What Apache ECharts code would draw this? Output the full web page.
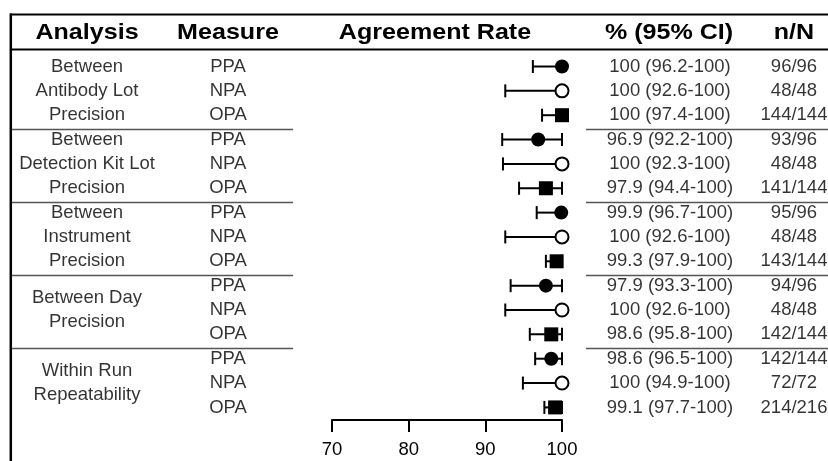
<!DOCTYPE html>
<html><head><meta charset="utf-8">
<script src="https://cdn.jsdelivr.net/npm/echarts@6/dist/echarts.min.js"></script>
<style>html,body{margin:0;padding:0;background:#fff}#c{width:828px;height:461px}</style>
</head><body><div id="c"></div>
<script>
// ---------- data ----------
const headers = ['Analysis', 'Measure', 'Agreement Rate', '% (95% CI)', 'n/N'];
const analyses = ['Between\nAntibody Lot\nPrecision', 'Between\nDetection Kit Lot\nPrecision', 'Between\nInstrument\nPrecision', 'Between Day\nPrecision', 'Within Run\nRepeatability'];
const measures = ['PPA', 'NPA', 'OPA'];
const ppaEst  = [100, 96.9, 99.9, 97.9, 98.6];
const ppaLow  = [96.2, 92.2, 96.7, 93.3, 96.5];
const ppaHigh = [100, 100, 100, 100, 100];
const ppaN    = [96, 93, 95, 94, 142];
const ppaTot  = [96, 96, 96, 96, 144];
const npaEst  = [100, 100, 100, 100, 100];
const npaLow  = [92.6, 92.3, 92.6, 92.6, 94.9];
const npaHigh = [100, 100, 100, 100, 100];
const npaN    = [48, 48, 48, 48, 72];
const npaTot  = [48, 48, 48, 48, 72];
const opaEst  = [100, 97.9, 99.3, 98.6, 99.1];
const opaLow  = [97.4, 94.4, 97.9, 95.8, 97.7];
const opaHigh = [100, 100, 100, 100, 100];
const opaN    = [144, 141, 143, 142, 214];
const opaTot  = [144, 144, 144, 144, 216];
const xTicks  = [70, 80, 90, 100];

// ---------- layout (not data) ----------
const FONT = '"Liberation Sans", Arial, sans-serif';
const COL = { analysis: 87, measure: 228, rate: 435, ci: 670, n: 794 };
const HEAD_X = [87, 228, 435, 669, 794];
const GRID_TOP = 48, GRID_BOTTOM = 41;
const Y_MIN = -0.76, Y_MAX = 14.517;
const ROW_H = 24.35;

const sets = [
  { est: ppaEst, low: ppaLow, high: ppaHigh, n: ppaN, tot: ppaTot },
  { est: npaEst, low: npaLow, high: npaHigh, n: npaN, tot: npaTot },
  { est: opaEst, low: opaLow, high: opaHigh, n: opaN, tot: opaTot }
];
const rowOf = (g, m) => g * 3 + m;

const errData = [], measureData = [], ciData = [], nData = [];
const markerData = [[], [], []];
analyses.forEach((a, g) => {
  measures.forEach((mName, m) => {
    const s = sets[m], r = rowOf(g, m);
    errData.push([s.low[g], s.high[g], r]);
    markerData[m].push([s.est[g], r]);
    measureData.push({ value: [COL.measure, r], name: mName });
    ciData.push({ value: [COL.ci, r], name: s.est[g] + ' (' + s.low[g] + '-' + s.high[g] + ')' });
    nData.push({ value: [COL.n, r], name: s.n[g] + '/' + s.tot[g] });
  });
});
const analysisData = analyses.map((a, g) => ({ value: [COL.analysis, rowOf(g, 1)], name: a }));

const sepLines = [];
[2, 5, 8, 11].forEach(b => {
  const y = b + 0.56;
  sepLines.push([{ coord: [12, y] }, { coord: [293, y] }]);
  sepLines.push([{ coord: [586, y] }, { coord: [828, y] }]);
});

const textSeries = (name, data, extra) => Object.assign({
  name, type: 'scatter', xAxisIndex: 1, yAxisIndex: 1, data,
  symbolSize: 1, itemStyle: { color: 'rgba(0,0,0,0)' }, silent: true,
  label: { show: true, position: 'inside', formatter: p => p.name, color: '#000',
           fontFamily: FONT, fontSize: 18.5, lineHeight: ROW_H }
}, extra || {});

const chart = echarts.init(document.getElementById('c'), null, { renderer: 'canvas' });
chart.setOption({
  animation: false,
  backgroundColor: '#fff',
  grid: [
    { left: 332, right: 828 - 562, top: GRID_TOP, bottom: GRID_BOTTOM, outerBoundsMode: 'none' },
    { left: 0, right: 0, top: GRID_TOP, bottom: GRID_BOTTOM, outerBoundsMode: 'none' }
  ],
  xAxis: [
    { gridIndex: 0, type: 'value', min: xTicks[0], max: xTicks[xTicks.length - 1], interval: 10,
      axisLine: { show: true, onZero: false, lineStyle: { color: '#000', width: 2 } },
      axisTick: { show: true, length: 12, lineStyle: { color: '#000', width: 2 } },
      axisLabel: { color: '#000', fontFamily: FONT, fontSize: 18.5, margin: 20 },
      splitLine: { show: false } },
    { gridIndex: 1, type: 'value', min: 0, max: 828, show: false }
  ],
  yAxis: [
    { gridIndex: 0, type: 'value', min: Y_MIN, max: Y_MAX, inverse: true, show: false },
    { gridIndex: 1, type: 'value', min: Y_MIN, max: Y_MAX, inverse: true, show: false }
  ],
  graphic: [
    { type: 'line', shape: { x1: 10, y1: 14.5, x2: 828, y2: 14.5 }, style: { stroke: '#000', lineWidth: 2 } },
    { type: 'line', shape: { x1: 10, y1: 49.5, x2: 828, y2: 49.5 }, style: { stroke: '#000', lineWidth: 2 } },
    { type: 'line', shape: { x1: 10.8, y1: 13.5, x2: 10.8, y2: 461 }, style: { stroke: '#000', lineWidth: 2.5 } }
  ].concat(headers.map((h, i) => ({
    type: 'text', x: HEAD_X[i], y: 33, scaleX: 1.14,
    style: { text: h, font: 'bold 22px ' + FONT, fill: '#000', align: 'center', verticalAlign: 'middle',
             textAlign: 'center', textVerticalAlign: 'middle' }
  }))),
  series: [
    textSeries('analysis', analysisData),
    textSeries('measure', measureData, {
      markLine: { silent: true, symbol: 'none', label: { show: false },
                  lineStyle: { color: '#555', width: 1.3, type: 'solid', opacity: 1 }, data: sepLines }
    }),
    textSeries('ci', ciData),
    textSeries('n', nData),
    {
      type: 'custom', name: 'CI', xAxisIndex: 0, yAxisIndex: 0, data: errData, silent: true, z: 2,
      renderItem: (params, api) => {
        const lo = api.coord([api.value(0), api.value(2)]);
        const hi = api.coord([api.value(1), api.value(2)]);
        const st = { stroke: '#000', lineWidth: 2 };
        return { type: 'group', children: [
          { type: 'line', shape: { x1: lo[0], y1: lo[1], x2: hi[0], y2: hi[1] }, style: st },
          { type: 'line', shape: { x1: lo[0], y1: lo[1] - 6.5, x2: lo[0], y2: lo[1] + 6.5 }, style: st },
          { type: 'line', shape: { x1: hi[0], y1: hi[1] - 6.5, x2: hi[0], y2: hi[1] + 6.5 }, style: st }
        ] };
      }
    },
    { type: 'scatter', name: 'PPA', xAxisIndex: 0, yAxisIndex: 0, data: markerData[0], z: 5,
      symbol: 'circle', symbolSize: 14, itemStyle: { color: '#000', opacity: 1 }, silent: true },
    { type: 'scatter', name: 'NPA', xAxisIndex: 0, yAxisIndex: 0, data: markerData[1], z: 5,
      symbol: 'circle', symbolSize: 13, itemStyle: { color: '#fff', borderColor: '#000', borderWidth: 2, opacity: 1 }, silent: true },
    { type: 'scatter', name: 'OPA', xAxisIndex: 0, yAxisIndex: 0, data: markerData[2], z: 5,
      symbol: 'rect', symbolSize: 14, itemStyle: { color: '#000', opacity: 1 }, silent: true }
  ]
});
</script>
</body></html>
